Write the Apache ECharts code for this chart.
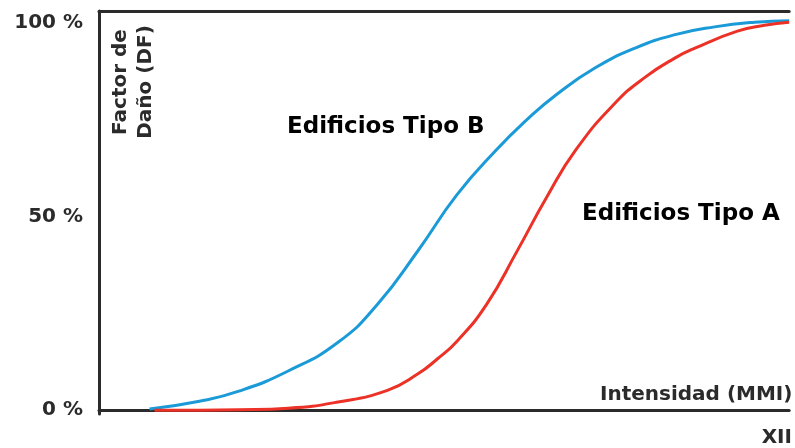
<!DOCTYPE html>
<html>
<head>
<meta charset="utf-8">
<script src="https://cdn.jsdelivr.net/npm/echarts@6/dist/echarts.min.js"></script>
<style>
  html, body { margin: 0; padding: 0; background: #fff; }
  #chart { width: 795px; height: 448px; }
</style>
</head>
<body>
<div id="chart"></div>
<script>
// Intensidad (MMI) y factor de daño (%)
const mmiB = [1.82, 2.63, 3.27, 4.07, 4.88, 5.52, 6.17, 6.81, 7.45, 7.94, 8.42, 9.06, 9.71, 10.35, 10.99, 11.64, 12.2];
const dfB = [0.3, 2.3, 4.9, 10.1, 17.5, 27.3, 41.0, 55.6, 67.2, 74.9, 81.4, 88.4, 93.5, 96.9, 98.9, 100.1, 100.5];
const mmiA = [1.9, 2.63, 3.27, 4.07, 4.88, 5.68, 6.17, 6.49, 6.81, 7.29, 7.78, 8.26, 8.74, 9.38, 9.87, 10.35, 10.67, 11.36, 11.8, 12.2];
const dfA = [0, 0, 0.1, 0.5, 2.1, 5.1, 9.3, 13.2, 17.8, 27.3, 40.9, 54.8, 67.2, 79.3, 86.0, 90.9, 93.4, 97.8, 99.3, 100.1];
const yTicks = [0, 50, 100];
const xTickLabels = { 12: "XII" };

const font = "DejaVu Sans";
const axisColor = "#2b2b2b";

const chart = echarts.init(document.getElementById("chart"));
chart.setOption({
  animation: false,
  grid: { left: 99, right: 0, top: 11, bottom: 33 },
  xAxis: [
    {
      type: "value",
      min: 1,
      max: 12.2,
      interval: 1,
      axisLine: { lineStyle: { color: axisColor, width: 3 } },
      axisTick: { show: false },
      splitLine: { show: false },
      axisLabel: {
        margin: 14,
        fontFamily: font,
        fontWeight: "bold",
        fontSize: 20,
        color: axisColor,
        formatter: (v) => xTickLabels[v] || "",
      },
    },
    {
      type: "value",
      position: "top",
      min: 1,
      max: 12.2,
      axisLine: { show: true, lineStyle: { color: axisColor, width: 3 } },
      axisTick: { show: false },
      axisLabel: { show: false },
      splitLine: { show: false },
    },
  ],
  yAxis: {
    type: "value",
    min: -1,
    max: 103,
    interval: 1,
    axisLine: { show: true, lineStyle: { color: axisColor, width: 3 } },
    axisTick: { show: false },
    splitLine: { show: false },
    axisLabel: {
      margin: 16,
      fontFamily: font,
      fontWeight: "bold",
      fontSize: 20,
      color: axisColor,
      formatter: (v) => (yTicks.includes(v) ? v + " %" : ""),
    },
  },
  series: [
    {
      name: "Edificios Tipo B",
      type: "line",
      smooth: 0.5,
      symbol: "none",
      lineStyle: { color: "#1b9ad8", width: 3 },
      data: mmiB.map((x, i) => [x, dfB[i]]),
    },
    {
      name: "Edificios Tipo A",
      type: "line",
      smooth: 0.5,
      symbol: "none",
      lineStyle: { color: "#ec3127", width: 3 },
      data: mmiA.map((x, i) => [x, dfA[i]]),
    },
  ],
  graphic: [
    {
      type: "text",
      x: 287,
      y: 127,
      style: {
        text: "Edificios Tipo B",
        font: "bold 23px " + font,
        fill: "#000",
        verticalAlign: "middle",
      },
    },
    {
      type: "text",
      x: 582,
      y: 214,
      style: {
        text: "Edificios Tipo A",
        font: "bold 23px " + font,
        fill: "#000",
        verticalAlign: "middle",
      },
    },
    {
      type: "text",
      x: 600,
      y: 395,
      style: {
        text: "Intensidad (MMI)",
        font: "bold 20px " + font,
        fill: axisColor,
        verticalAlign: "middle",
      },
    },
    {
      type: "text",
      x: 133,
      y: 82,
      rotation: Math.PI / 2,
      style: {
        text: "Factor de\nDaño (DF)",
        font: "bold 20px " + font,
        lineHeight: 25,
        fill: axisColor,
        align: "center",
        verticalAlign: "middle",
      },
    },
  ],
});
</script>
</body>
</html>
